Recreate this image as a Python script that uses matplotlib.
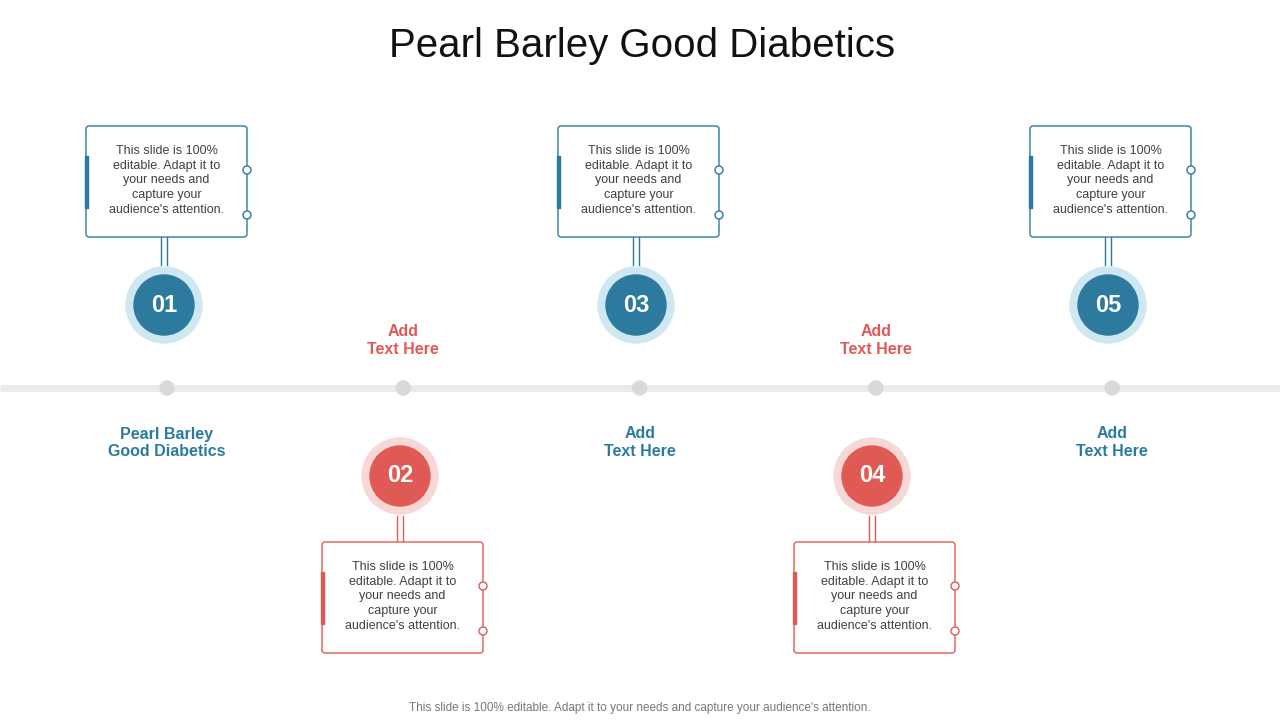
import matplotlib
matplotlib.use("Agg")
import matplotlib.pyplot as plt
from matplotlib.patches import Circle, FancyBboxPatch, Rectangle

title = "Pearl Barley Good Diabetics"
step_numbers = ["01", "02", "03", "04", "05"]
step_labels = ["Pearl Barley\nGood Diabetics", "Add\nText Here", "Add\nText Here", "Add\nText Here", "Add\nText Here"]
box_text = "This slide is 100%\neditable. Adapt it to\nyour needs and\ncapture your\naudience's attention."
footer = "This slide is 100% editable. Adapt it to your needs and capture your audience's attention."

BLUE, BLUE_L = "#2C7A9E", "#CFE7F0"
RED, RED_L = "#E05A55", "#F8D8D6"
TXT = "#404040"

fig = plt.figure(figsize=(12.8, 7.2), dpi=100)
ax = fig.add_axes([0, 0, 1, 1])
ax.set_xlim(0, 1280); ax.set_ylim(720, 0); ax.axis("off")

ax.text(642, 46, title, ha="center", va="center", fontsize=29, color="#111111", family="Liberation Sans")
ax.text(640, 708, footer, ha="center", va="center", fontsize=8.5, color="#777777", family="Liberation Sans")

line_y = 388
ax.plot([0, 1280], [line_y, line_y], color="#EBEBEB", lw=5, solid_capstyle="butt", zorder=1)

for i, (num, lab) in enumerate(zip(step_numbers, step_labels)):
    cx = 164 + 236 * i
    dx = 167 + 236.3 * i
    top = i % 2 == 0
    col, coll = (BLUE, BLUE_L) if top else (RED, RED_L)
    ax.add_patch(Circle((dx, line_y), 7, color="#D9D9D9", zorder=2))
    cy = 305 if top else 476
    ax.add_patch(Circle((cx, cy), 38, color=coll, zorder=3))
    ax.add_patch(Circle((cx, cy), 30, color=col, zorder=4))
    ax.text(cx, cy, num, ha="center", va="center", fontsize=17, fontweight="bold", color="white", zorder=5, family="Liberation Sans")
    bx0 = cx - 78
    bw, bh = 161, 111
    by0 = 126 if top else 542
    ax.add_patch(FancyBboxPatch((bx0, by0), bw, bh, boxstyle="round,pad=0,rounding_size=3",
                                fc="white", ec=col, lw=1, zorder=3))
    ax.add_patch(Rectangle((bx0 - 1.5, by0 + 30), 3.5, 52, color=col, zorder=4))
    for off in (44, 89):
        ax.add_patch(Circle((bx0 + bw, by0 + off), 4, fc="white", ec=col, lw=1, zorder=5))
    if top:
        y1, y2 = by0 + bh, cy - 40
    else:
        y1, y2 = cy + 40, by0
    for xo in (-3, 3):
        ax.plot([cx + xo, cx + xo], [y1, y2], color=col, lw=1, zorder=2)
    ax.text(bx0 + bw / 2, by0 + bh / 2 - 1, box_text, ha="center", va="center", fontsize=9,
            color=TXT, linespacing=1.3, zorder=6, family="Liberation Sans")
    ly = 443 if top else 340
    ax.text(dx, ly, lab, ha="center", va="center", fontsize=11.5, fontweight="bold",
            color=col, linespacing=1.25, family="Liberation Sans")

fig.savefig("out.png", dpi=100)
